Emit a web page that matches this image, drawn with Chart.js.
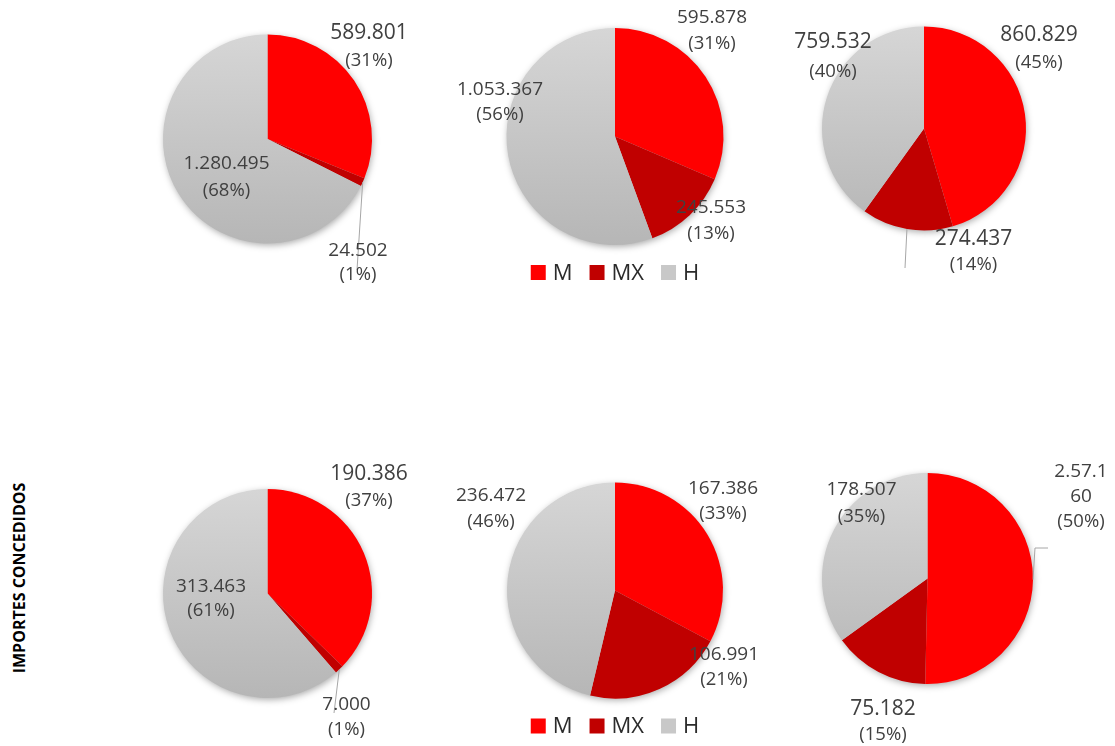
<!DOCTYPE html>
<html lang="es">
<head>
<meta charset="utf-8">
<title>Importes concedidos</title>
<script src="https://cdn.jsdelivr.net/npm/chart.js@4.4.1/dist/chart.umd.min.js"></script>
<style>
  html, body { margin: 0; padding: 0; background: #fff; width: 1115px; height: 746px; overflow: hidden; }
  .layer { position: absolute; left: 0; top: 0; width: 1115px; height: 746px; }
  #axisTitle {
    position: absolute; left: 19px; top: 578px;
    transform: translate(-50%, -50%) rotate(-90deg);
    font: 700 16px "Open Sans", sans-serif; color: #000; white-space: nowrap;
  }
</style>
</head>
<body>
<div id="axisTitle">IMPORTES CONCEDIDOS</div>
<div class="layer"><canvas id="pie1"></canvas></div>
<div class="layer"><canvas id="pie2"></canvas></div>
<div class="layer"><canvas id="pie3"></canvas></div>
<div class="layer"><canvas id="pie4"></canvas></div>
<div class="layer"><canvas id="pie5"></canvas></div>
<div class="layer"><canvas id="pie6"></canvas></div>
<script>
// Categories shared by every pie
const categories = ['M', 'MX', 'H'];

// Amounts per pie, in category order
const pie1Values = [589801, 24502, 1280495];
const pie2Values = [595878, 245553, 1053367];
const pie3Values = [860829, 274437, 759532];
const pie4Values = [190386, 7000, 313463];
const pie5Values = [167386, 106991, 236472];
const pie6Values = [257160, 75182, 178507];

// Value text as printed on the sixth pie (null = formatted from the value)
const pie6ValueText = ['2.57.1\n60', null, null];

// Styling
const W = 1115, H = 746;
const sliceColors = ['#ff0000', '#c00000', '#c8c8c8'];
const textColor = '#404040';
const legendTextColor = '#2b2b2b';
const fontFamily = '"Open Sans", sans-serif';

// Placement of each pie and its labels (offsets from the pie centre)
const pieLayouts = [
  { id: 'pie1', values: pie1Values, cx: 267.5, cy: 139, r: 104.5,
    labels: [ { dx: 101.5, dy: -106, gap: 28, vSize: 21 },
              { dx: 90.5, dy: 111.5, gap: 24 },
              { dx: -41, dy: 25, gap: 27 } ],
    leaders: [ { slice: 1, pts: [[89.5, 131]] } ] },
  { id: 'pie2', values: pie2Values, cx: 615, cy: 136.5, r: 108.5, legend: true,
    labels: [ { dx: 97, dy: -118.5, gap: 26 },
              { dx: 96, dy: 71.5, gap: 26 },
              { dx: -115, dy: -46.5, gap: 25 } ] },
  { id: 'pie3', values: pie3Values, cx: 924, cy: 128.5, r: 102,
    labels: [ { dx: 115, dy: -93.5, gap: 28, vSize: 21 },
              { dx: 49.5, dy: 111, gap: 25, vSize: 21 },
              { dx: -91, dy: -86, gap: 29, vSize: 21 } ],
    leaders: [ { slice: 1, pts: [[-19, 139.5]] } ] },
  { id: 'pie4', values: pie4Values, cx: 267.5, cy: 593.5, r: 104.5,
    labels: [ { dx: 101.5, dy: -119.5, gap: 27, vSize: 21 },
              { dx: 79, dy: 111.5, gap: 25 },
              { dx: -56.5, dy: -6.5, gap: 24 } ],
    leaders: [ { slice: 1, pts: [[66.5, 119.5]] } ] },
  { id: 'pie5', values: pie5Values, cx: 615, cy: 590.5, r: 108, legend: true,
    labels: [ { dx: 108, dy: -102, gap: 25.5 },
              { dx: 109, dy: 64.5, gap: 25 },
              { dx: -124, dy: -94.5, gap: 26 } ] },
  { id: 'pie6', values: pie6Values, valueText: pie6ValueText, cx: 927.5, cy: 578.5, r: 105.5,
    labels: [ { dx: 153.5, dy: -106.5, gap: 25 },
              { dx: -44.5, dy: 131, gap: 25, vSize: 21 },
              { dx: -66, dy: -88.5, gap: 27 } ],
    leaders: [ { slice: 0, pts: [[107.5, -30.5], [120.5, -30.5]] } ] }
];

function formatAmount(v) {
  return String(v).replace(/\B(?=(\d{3})+(?!\d))/g, '.');
}

function sliceFill(c) {
  const i = c.dataIndex;
  if (i === 0) return sliceColors[0];
  if (i === 1) return sliceColors[1];
  const area = c.chart.chartArea;
  if (!area) return sliceColors[2];
  const g = c.chart.ctx.createLinearGradient(0, area.top, 0, area.bottom);
  g.addColorStop(0, '#d6d6d6');
  g.addColorStop(1, '#b6b6b6');
  return g;
}

function makeDecorations(spec) {
  return {
    id: 'decorations_' + spec.id,
    beforeDatasetsDraw(chart) {
      const arc = chart.getDatasetMeta(0).data[0];
      if (!arc) return;
      const ctx = chart.ctx;
      ctx.save();
      ctx.shadowColor = 'rgba(0,0,0,0.35)';
      ctx.shadowBlur = 7;
      ctx.shadowOffsetX = 1;
      ctx.shadowOffsetY = 2;
      ctx.beginPath();
      ctx.arc(arc.x, arc.y, arc.outerRadius - 0.5, 0, Math.PI * 2);
      ctx.fillStyle = '#c8c8c8';
      ctx.fill();
      ctx.restore();
    },
    afterDatasetsDraw(chart) {
      const meta = chart.getDatasetMeta(0);
      const data = chart.data.datasets[0].data;
      const total = data.reduce((a, b) => a + b, 0);
      const ctx = chart.ctx;
      const arcs = meta.data;
      const cx = arcs[0].x, cy = arcs[0].y;

      // leader lines
      ctx.save();
      ctx.strokeStyle = '#a6a6a6';
      ctx.lineWidth = 1;
      (spec.leaders || []).forEach(l => {
        const a = arcs[l.slice];
        const mid = (a.startAngle + a.endAngle) / 2;
        ctx.beginPath();
        ctx.moveTo(cx + Math.cos(mid) * a.outerRadius, cy + Math.sin(mid) * a.outerRadius);
        l.pts.forEach(p => ctx.lineTo(cx + p[0], cy + p[1]));
        ctx.stroke();
      });
      ctx.restore();

      // value and share labels
      ctx.save();
      ctx.fillStyle = textColor;
      ctx.textAlign = 'center';
      ctx.textBaseline = 'middle';
      data.forEach((v, i) => {
        const lab = spec.labels[i];
        const custom = spec.valueText && spec.valueText[i];
        const lines = (custom || formatAmount(v)).split('\n');
        const x = cx + lab.dx;
        let y = cy + lab.dy;
        ctx.font = (lab.vSize || 19) + 'px ' + fontFamily;
        lines.forEach(t => { ctx.fillText(t, x, y); y += lab.gap; });
        ctx.font = (lab.pSize || 18.5) + 'px ' + fontFamily;
        ctx.fillText('(' + Math.round(v * 100 / total) + '%)', x, y);
      });
      ctx.restore();

      // legend under the pie
      if (spec.legend) {
        const box = 15, textGap = 7, itemGap = 17;
        ctx.save();
        ctx.font = '22px ' + fontFamily;
        const labels = chart.data.labels;
        const widths = labels.map(t => ctx.measureText(t).width);
        let totalW = 0;
        widths.forEach((w, i) => { totalW += box + textGap + w + (i < widths.length - 1 ? itemGap : 0); });
        let x = cx - totalW / 2;
        const ly = cy + arcs[0].outerRadius + 27.5;
        ctx.textBaseline = 'middle';
        ctx.textAlign = 'left';
        labels.forEach((t, i) => {
          ctx.fillStyle = sliceColors[i];
          ctx.fillRect(x, ly - box / 2, box, box);
          x += box + textGap;
          ctx.fillStyle = legendTextColor;
          ctx.fillText(t, x, ly + 1);
          x += widths[i] + itemGap;
        });
        ctx.restore();
      }
    }
  };
}

pieLayouts.forEach(spec => {
  new Chart(document.getElementById(spec.id), {
    type: 'pie',
    data: {
      labels: categories,
      datasets: [{
        data: spec.values,
        backgroundColor: sliceFill,
        borderWidth: 0,
        hoverOffset: 0
      }]
    },
    options: {
      responsive: true,
      maintainAspectRatio: false,
      animation: false,
      events: [],
      layout: {
        padding: {
          left: spec.cx - spec.r,
          top: spec.cy - spec.r,
          right: W - spec.cx - spec.r,
          bottom: H - spec.cy - spec.r
        }
      },
      plugins: {
        legend: { display: false },
        tooltip: { enabled: false },
        title: { display: false }
      }
    },
    plugins: [makeDecorations(spec)]
  });
});
</script>
</body>
</html>
